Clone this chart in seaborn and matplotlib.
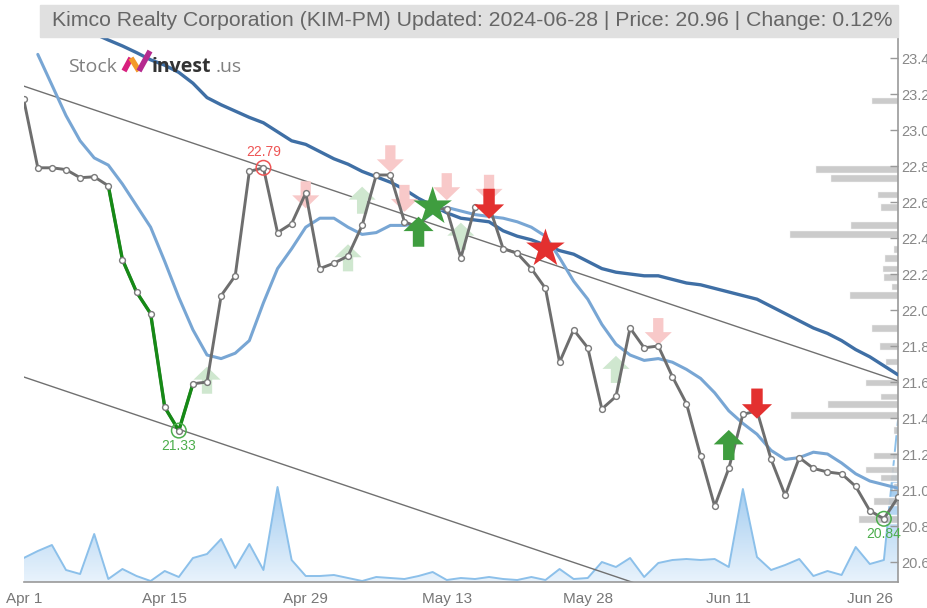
import numpy as np
import pandas as pd
import matplotlib
matplotlib.use("Agg")
import matplotlib.pyplot as plt
import seaborn as sns
from matplotlib.path import Path
from matplotlib.patches import Rectangle
from matplotlib.lines import Line2D
from matplotlib.colors import LinearSegmentedColormap

# ---------------- data ----------------
tick_idx = [0, 10, 20, 30, 40, 50, 60]
tick_labels = ["Apr 1", "Apr 15", "Apr 29", "May 13", "May 28", "Jun 11", "Jun 26"]

price = [23.17, 22.79, 22.79, 22.78, 22.735, 22.74, 22.69, 22.28, 22.10, 21.98,
         21.46, 21.33, 21.59, 21.60, 22.08, 22.19, 22.77, 22.79, 22.43, 22.48,
         22.65, 22.23, 22.26, 22.30, 22.47, 22.75, 22.75, 22.49, 22.46, 22.57,
         22.56, 22.29, 22.57, 22.58, 22.34, 22.315, 22.23, 22.12, 21.71, 21.89,
         21.79, 21.45, 21.52, 21.90, 21.79, 21.80, 21.63, 21.48, 21.19, 20.91,
         21.12, 21.42, 21.44, 21.17, 20.97, 21.18, 21.12, 21.10, 21.09, 21.02,
         20.885, 20.84, 20.96]

ma_fast = [np.nan, 23.42, 23.25, 23.08, 22.94, 22.845, 22.805, 22.70, 22.58, 22.46,
           22.27, 22.07, 21.89, 21.75, 21.73, 21.76, 21.83, 22.04, 22.23, 22.34,
           22.46, 22.51, 22.51, 22.46, 22.42, 22.43, 22.47, 22.47, 22.48, 22.54,
           22.57, 22.55, 22.53, 22.52, 22.51, 22.49, 22.46, 22.41, 22.29, 22.16,
           22.06, 21.92, 21.81, 21.75, 21.72, 21.73, 21.71, 21.67, 21.62, 21.54,
           21.44, 21.37, 21.31, 21.22, 21.17, 21.18, 21.21, 21.20, 21.15, 21.09,
           21.05, 21.03, 21.01]

ma_slow = [np.nan] * 5 + [23.535, 23.50, 23.467, 23.43, 23.39, 23.36, 23.32, 23.26, 23.18, 23.14,
           23.105, 23.07, 23.04, 22.99, 22.94, 22.92, 22.88, 22.84, 22.81, 22.77,
           22.74, 22.71, 22.67, 22.62, 22.58, 22.54, 22.51, 22.50, 22.49, 22.44,
           22.41, 22.39, 22.36, 22.33, 22.31, 22.27, 22.23, 22.21, 22.20, 22.19,
           22.19, 22.17, 22.15, 22.14, 22.12, 22.10, 22.08, 22.06, 22.02, 21.98,
           21.94, 21.90, 21.87, 21.83, 21.78, 21.74, 21.69, 21.64]

volume = [24, 31, 37, 12, 8, 48, 3, 13, 6, 1,
          11, 5, 24, 28, 43, 14, 38, 12, 95, 22,
          6, 6, 7, 4, 1, 5, 4, 3, 6, 10,
          2, 4, 3, 5, 3, 2, 5, 2, 13, 3,
          4, 20, 15, 24, 5, 19, 22, 23, 22, 23,
          15, 93, 25, 12, 17, 23, 6, 11, 7, 35,
          18, 22, 162]

trend_x = [0, 62]
trend_upper = [23.244, 21.606]
trend_lower = [21.628, 19.99]

profile_price = [23.164, 22.783, 22.733, 22.642, 22.572, 22.472, 22.422, 22.339, 22.289,
                 22.231, 22.183, 22.131, 22.083, 21.90, 21.80, 21.714, 21.597, 21.519,
                 21.478, 21.417, 21.333, 21.192, 21.114, 21.069, 21.019, 20.939, 20.839]
profile_vol = [27, 83, 68, 21, 18, 48, 109, 5, 14, 16, 15, 7, 49, 27, 19, 13, 33, 18,
               71, 108, 5, 25, 33, 18, 5, 25, 40]

pale_up_idx = [13, 23, 24, 31, 42]
pale_up_val = [21.61, 22.29, 22.61, 22.41, 21.67]
pale_down_idx = [20, 26, 27, 30, 33, 45]
pale_down_val = [22.64, 22.84, 22.62, 22.685, 22.676, 21.88]
strong_up_idx = [28, 50]
strong_up_val = [22.435, 21.25]
strong_down_idx = [33, 52]
strong_down_val = [22.59, 21.48]
star_buy_idx = [29]
star_buy_val = [22.574]
star_sell_idx = [37]
star_sell_val = [22.34]

high_idx, high_val = [17], [22.79]
low_idx, low_val = [11, 61], [21.33, 20.84]

green_start, green_end = 6, 12

# ---------------- style ----------------
sns.set_style("white")
plt.rcParams['font.family'] = ['Liberation Sans', 'DejaVu Sans']
narrow = ['Liberation Sans', 'DejaVu Sans']

W, H = 928, 608
fig = plt.figure(figsize=(W / 100, H / 100), dpi=100)
L, R, B, T = 23.7, 898.0, 582.0, 38.0
pos = [L / W, 1 - B / H, (R - L) / W, (B - T) / H]

YMIN = 20.6 - (B - 562) / 180.0
YMAX = 20.6 + (562 - T) / 180.0

n = len(price)
idx = np.arange(n)
df = pd.DataFrame({"i": idx, "price": price, "fast": ma_fast, "slow": ma_slow, "vol": volume})

# volume axis (bottom layer)
ax_vol = fig.add_axes(pos)
ax_vol.set_axis_off()
poly = ax_vol.fill_between(df["i"], df["vol"], 0, facecolor="none", edgecolor="none")
cmap = LinearSegmentedColormap.from_list("vg", ["#e9f3fc", "#98c6ee"])
grad = np.linspace(0, 1, 256).reshape(-1, 1)
im = ax_vol.imshow(grad, extent=[0, n - 1, 0, 110], origin="lower",
                   aspect="auto", cmap=cmap, zorder=1)
im.set_clip_path(poly.get_paths()[0], transform=ax_vol.transData)
sns.lineplot(data=df, x="i", y="vol", ax=ax_vol, color="#8cc0ea", lw=1.4, zorder=2)
ax_vol.set_xlim(0, n - 1)
ax_vol.set_ylim(0, (B - T))

# volume profile axis
ax_prof = fig.add_axes(pos, frameon=False)
ax_prof.barh(profile_price, profile_vol, height=0.04, color="#c6c6c6", alpha=0.9)
ax_prof.set_xlim(R - L, 0)
ax_prof.set_ylim(YMIN, YMAX)
ax_prof.set_axis_off()

# price axis (top layer)
ax = fig.add_axes(pos)
ax.set_facecolor("none")

for yv in (trend_upper, trend_lower):
    sns.lineplot(x=trend_x, y=yv, ax=ax, color="#707070", lw=1.0, zorder=2)

sns.lineplot(data=df, x="i", y="slow", ax=ax, color="#3f6fa5", lw=2.4, zorder=3)
sns.lineplot(data=df, x="i", y="fast", ax=ax, color="#78a6d4", lw=2.2, zorder=3)

sns.lineplot(data=df, x="i", y="price", ax=ax, color="#6e6e6e", lw=2.1, zorder=4)
gseg = df.iloc[green_start:green_end + 1]
sns.lineplot(data=gseg, x="i", y="price", ax=ax, color="#168a16", lw=2.4, zorder=5)
ax.plot(df["i"], df["price"], ls="none", marker="o", ms=4.2, mfc="white",
        mec="#7a7a7a", mew=1.0, zorder=6)

up_arrow = Path([(0, 0.5), (0.5, 0.02), (0.19, 0.02), (0.19, -0.5), (-0.19, -0.5),
                 (-0.19, 0.02), (-0.5, 0.02), (0, 0.5)])
down_arrow = Path([(x, -y) for x, y in up_arrow.vertices])

def scat(xs, ys, marker, s, color, z):
    sns.scatterplot(x=xs, y=ys, marker=marker, s=s, color=color, edgecolor="none",
                    linewidth=0, ax=ax, zorder=z, legend=False)

scat(pale_up_idx, pale_up_val, up_arrow, 380, "#cfe7cf", 3.5)
scat(pale_down_idx, pale_down_val, down_arrow, 380, "#f8c9c9", 3.5)
scat(strong_up_idx, strong_up_val, up_arrow, 470, "#3f9d3f", 7)
scat(strong_down_idx, strong_down_val, down_arrow, 470, "#e3302f", 7)
scat(star_buy_idx, star_buy_val, "*", 850, "#3f9d3f", 7)
scat(star_sell_idx, star_sell_val, "*", 850, "#e3302f", 7)

sns.scatterplot(x=high_idx, y=high_val, marker="o", s=110, facecolor="none",
                edgecolor="#ee5555", linewidth=1.1, ax=ax, zorder=8, legend=False)
sns.scatterplot(x=low_idx, y=low_val, marker="o", s=110, facecolor="none",
                edgecolor="#4cae4c", linewidth=1.1, ax=ax, zorder=8, legend=False)
for i_, v_ in zip(high_idx, high_val):
    ax.annotate(f"{v_:.2f}", (i_, v_), xytext=(0, 6), textcoords="offset points",
                ha="center", va="bottom", color="#ee5555", fontsize=10, family=narrow)
for i_, v_ in zip(low_idx, low_val):
    ax.annotate(f"{v_:.2f}", (i_, v_), xytext=(0, -6), textcoords="offset points",
                ha="center", va="top", color="#4cae4c", fontsize=10, family=narrow)

ax.set_xlim(0, n - 1)
ax.set_ylim(YMIN, YMAX)
ax.set_xlabel("")
ax.set_ylabel("")
ax.set_xticks(tick_idx)
ax.set_xticklabels(tick_labels, family=narrow)
yt = np.round(np.arange(20.6, 23.41, 0.2), 1)
ax.set_yticks(yt)
ax.set_yticklabels([f"{v:.1f}" for v in yt], family=narrow)
ax.yaxis.tick_right()
ax.tick_params(axis="y", direction="in", length=6, width=1, color="#999",
               labelcolor="#888", labelsize=10.5, pad=2)
ax.tick_params(axis="x", direction="out", length=5, width=1, color="#999",
               labelcolor="#777", labelsize=11, pad=2)
for s in ("left", "top"):
    ax.spines[s].set_visible(False)
for s in ("right", "bottom"):
    ax.spines[s].set_color("#999")
    ax.spines[s].set_linewidth(1.2)

# title band
fig.patches.append(Rectangle((40 / W, 1 - 37 / H), (R - 40) / W, 32 / H,
                             transform=fig.transFigure, color="#e0e0e0", zorder=0))
fig.text(893 / W, 1 - 21 / H,
         "Kimco Realty Corporation (KIM-PM) Updated: 2024-06-28 | Price: 20.96 | Change: 0.12%",
         ha="right", va="center", color="#666", fontsize=15.3, family=narrow)

# logo
fig.text(68 / W, 1 - 72 / H, "Stock", ha="left", va="baseline", color="#808080",
         fontsize=14, family=["Open Sans", "DejaVu Sans"])
fig.text(152 / W, 1 - 72 / H, "invest", ha="left", va="baseline", color="#333",
         fontsize=14, fontweight="bold", family=["Open Sans", "DejaVu Sans"])
fig.text(216 / W, 1 - 72 / H, ".us", ha="left", va="baseline", color="#808080",
         fontsize=14, family=["Open Sans", "DejaVu Sans"])
def fl(pts, c):
    xs = [p[0] / W for p in pts]
    ys = [1 - p[1] / H for p in pts]
    fig.add_artist(Line2D(xs, ys, color=c, lw=4, solid_capstyle="butt", transform=fig.transFigure))
fl([(124, 71), (131, 58)], "#d8207e")
fl([(131, 58), (139, 71)], "#f39a2b")
fl([(139, 71), (150, 51)], "#b52a8f")

fig.savefig("out.png", dpi=100)
